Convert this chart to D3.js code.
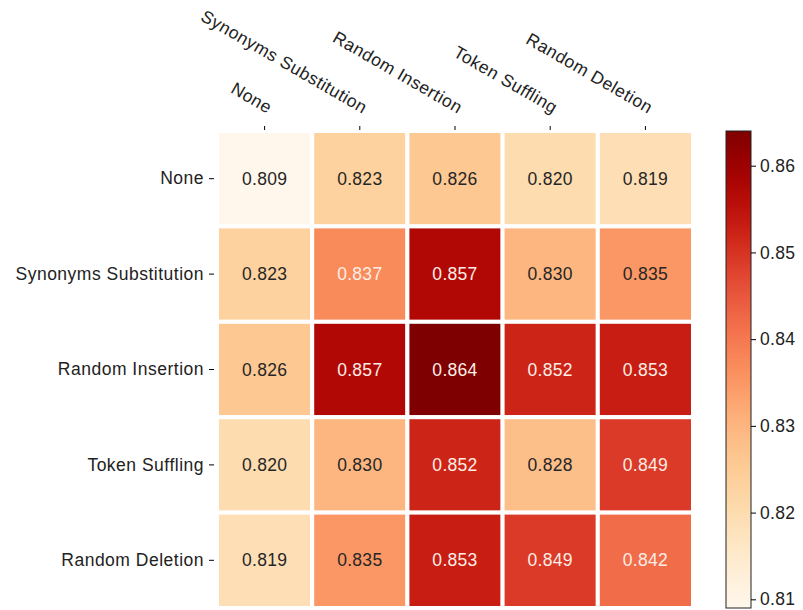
<!DOCTYPE html>
<html>
<head>
<meta charset="utf-8">
<script src="https://cdn.jsdelivr.net/npm/d3@7"></script>
<style>
  body { margin: 0; background: #fff; }
  text { font-family: "Liberation Sans", Arial, sans-serif; }
</style>
</head>
<body>
<svg id="chart" width="803" height="610"></svg>
<script>
// augmentation names, rows and columns are the same
var methods = ['None', 'Synonyms Substitution', 'Random Insertion', 'Token Suffling', 'Random Deletion'];

// accuracy of each pair (row, column)
var rowNone       = [0.809, 0.823, 0.826, 0.820, 0.819];
var rowSynonyms   = [0.823, 0.837, 0.857, 0.830, 0.835];
var rowInsertion  = [0.826, 0.857, 0.864, 0.852, 0.853];
var rowSuffling   = [0.820, 0.830, 0.852, 0.828, 0.849];
var rowDeletion   = [0.819, 0.835, 0.853, 0.849, 0.842];
var matrix = [rowNone, rowSynonyms, rowInsertion, rowSuffling, rowDeletion];

var colorTicks = [0.81, 0.82, 0.83, 0.84, 0.85, 0.86];

var svg = d3.select('#chart');
var fontSize = 17.5;

var grid = { left: 217, top: 131, right: 693, bottom: 608 };

var x = d3.scaleBand().domain(methods).range([grid.left, grid.right]).padding(0);
var y = d3.scaleBand().domain(methods).range([grid.top, grid.bottom]).padding(0);

var vmin = d3.min(matrix, function (r) { return d3.min(r); });
var vmax = d3.max(matrix, function (r) { return d3.max(r); });
var color = d3.scaleSequential(d3.interpolateOrRd).domain([vmin, vmax]);

// flatten to cells
var cells = [];
matrix.forEach(function (row, i) {
    row.forEach(function (v, j) {
        cells.push({ row: methods[i], col: methods[j], value: v });
    });
});

var g = svg.append('g').attr('class', 'cells');

g.selectAll('rect')
    .data(cells)
    .enter().append('rect')
    .attr('x', function (d) { return x(d.col); })
    .attr('y', function (d) { return y(d.row); })
    .attr('width', x.bandwidth())
    .attr('height', y.bandwidth())
    .attr('fill', function (d) { return color(d.value); })
    .attr('stroke', '#fff')
    .attr('stroke-width', 4);

g.selectAll('text')
    .data(cells)
    .enter().append('text')
    .attr('x', function (d) { return x(d.col) + x.bandwidth() / 2; })
    .attr('y', function (d) { return y(d.row) + y.bandwidth() / 2; })
    .attr('dy', '0.35em')
    .attr('text-anchor', 'middle')
    .attr('font-size', fontSize)
    .attr('letter-spacing', 0.3)
    .attr('fill', function (d) { return d.value > (vmin + vmax) / 2 ? '#fdeee6' : '#262626'; })
    .text(function (d) { return d3.format('.3f')(d.value); });

// top axis, labels slanted
var topAxis = svg.append('g')
    .attr('transform', 'translate(0,' + (grid.top - 1) + ')')
    .call(d3.axisTop(x).tickSize(4).tickPadding(6));
topAxis.select('.domain').remove();
topAxis.selectAll('text')
    .attr('font-size', fontSize)
    .attr('letter-spacing', 0.5)
    .attr('fill', '#222')
    .attr('text-anchor', 'end')
    .attr('y', 0)
    .attr('dy', 0)
    .attr('transform', 'translate(3,-16) rotate(30)');

// left axis
var leftAxis = svg.append('g')
    .attr('transform', 'translate(' + (grid.left - 3) + ',0)')
    .call(d3.axisLeft(y).tickSize(5).tickPadding(5));
leftAxis.select('.domain').remove();
leftAxis.selectAll('text')
    .attr('font-size', fontSize)
    .attr('letter-spacing', 0.5)
    .attr('fill', '#222');

// colour bar
var cb = { x: 726, w: 25, top: 131, bottom: 608 };
var cbScale = d3.scaleLinear().domain([vmin, vmax]).range([cb.bottom, cb.top]);

var defs = svg.append('defs');
var grad = defs.append('linearGradient')
    .attr('id', 'cbgrad')
    .attr('x1', 0).attr('y1', 1).attr('x2', 0).attr('y2', 0);
d3.range(0, 1.0001, 0.05).forEach(function (t) {
    grad.append('stop')
        .attr('offset', t)
        .attr('stop-color', color(vmin + t * (vmax - vmin)));
});

svg.append('rect')
    .attr('x', cb.x)
    .attr('y', cb.top)
    .attr('width', cb.w)
    .attr('height', cb.bottom - cb.top)
    .attr('fill', 'url(#cbgrad)')
    .attr('stroke', '#222')
    .attr('stroke-width', 1);

var cbAxis = svg.append('g')
    .attr('transform', 'translate(' + (cb.x + cb.w) + ',0)')
    .call(d3.axisRight(cbScale).tickValues(colorTicks).tickSize(5).tickPadding(4).tickFormat(d3.format('.2f')));
cbAxis.select('.domain').remove();
cbAxis.selectAll('text')
    .attr('font-size', fontSize)
    .attr('letter-spacing', 0.3)
    .attr('fill', '#222');
</script>
</body>
</html>
